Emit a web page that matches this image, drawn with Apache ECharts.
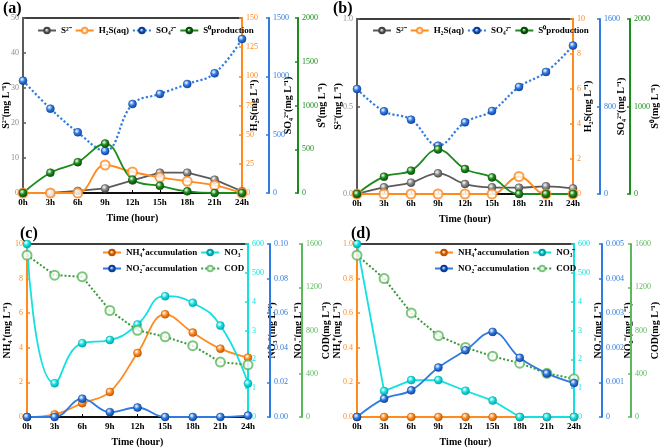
<!DOCTYPE html>
<html><head><meta charset="utf-8">
<script src="https://cdn.jsdelivr.net/npm/echarts@6/dist/echarts.min.js"></script>
<style>html,body{margin:0;padding:0;background:#fff}#c{width:661px;height:448px}</style>
</head><body><div id="c"></div>
<script>
const categories = ['0h','3h','6h','9h','12h','15h','18h','21h','24h'];
// panel (a)
const aS2 = [0,0,0.6,1.3,3.6,5.8,5.8,3.8,0.5];
const aH2S = [0,0,0,24,18,13.4,10,6.6,0];
const aSO4 = [963,723,520,360,763,849,934,1026,1320];
const aS0 = [0,232,352,565,152,82,19,0,0];
// panel (b)
const bS2 = [0,0.038,0.065,0.118,0.057,0.038,0.036,0.044,0.032];
const bH2S = [0,0,0,0,0,0,1.0,0,0];
const bSO4 = [960,756,680,442,655,759,979,1116,1357];
const bS0 = [0,198,267,510,286,190,0,0,0];
// panel (c)
const cNH4 = [0,0.15,0.8,1.45,3.7,5.94,4.88,3.95,3.43];
const cNO3 = [600,117,256,267,321,419,396,317,116];
const cNO2 = [0,0,0.0106,0.0028,0.0055,0,0,0,0.0008];
const cCOD = [1497,1312,1297,985,802,742,660,508,483];
// panel (d)
const dNH4 = [0,0,0,0,0,0,0,0,0];
const dNO3 = [600,90,128,128,91,57,0,0,0];
const dNO2 = [0,0.00053,0.00077,0.00143,0.00193,0.00246,0.00171,0.00126,0.00098];
const dCOD = [1497,1281,962,752,643,562,498,404,353];
// tick label text of NO3- axis
const no3Labels = {0:'0',100:'1',200:'2',300:'3',400:'4',500:'500',600:'600'};

const FONT = 'Liberation Serif';
const GRAY='#5a5a5a', GRAYL='#8c8c8c', ORANGE='#ff8a1e', BLUE='#2f7be0', GREEN='#1a8c1a', CYAN='#14e0e0', LGREEN='#5cb85c';

function sphere(base, dark){
  return {type:'radial',x:0.38,y:0.35,r:0.7,colorStops:[{offset:0,color:'#ffffff'},{offset:0.45,color:base},{offset:1,color:dark}]};
}
function yAx(grid, pos, offset, min, max, interval, color, name, nameGap, fmt, labelColor){
  return {
    type:'value', gridIndex:grid, position:pos, offset:offset, min:min, max:max, interval:interval,
    name:name, nameLocation:'middle', nameGap:nameGap, nameRotate:90, nameMoveOverlap:false,
    nameTextStyle:{fontFamily:FONT,fontWeight:'bold',fontSize:10,color:'#000'},
    axisLine:{show:true,onZero:false,lineStyle:{color:color,width:2}},
    axisTick:{show:true,inside:true,length:3,lineStyle:{color:color,width:1.5}},
    axisLabel:{fontFamily:FONT,fontSize:8,color:labelColor||color,margin:4,formatter:fmt},
    splitLine:{show:false}
  };
}
function xAx(grid){
  return {type:'category',gridIndex:grid,data:categories,boundaryGap:false,
    name:'Time (hour)',nameLocation:'middle',nameGap:20,nameMoveOverlap:false,
    nameTextStyle:{fontFamily:FONT,fontWeight:'bold',fontSize:10,color:'#000'},
    axisLine:{onZero:false,lineStyle:{color:'#000',width:1.5}},
    axisTick:{inside:true,length:3,alignWithLabel:true,lineStyle:{color:'#000'}},
    axisLabel:{fontFamily:FONT,fontWeight:'bold',fontSize:9,color:'#000',margin:5,interval:0}};
}
const grids = [
  {left:22,top:18,width:220,height:175},
  {left:357,top:19,width:220,height:175},
  {left:27,top:244,width:221,height:176},
  {left:357,top:244,width:221,height:176}
].map(g=>Object.assign(g,{show:true,borderColor:'#000',borderWidth:1.5,backgroundColor:'transparent'}));

const f1 = v=>v.toFixed(1), f2=v=>v.toFixed(2), f3=v=>v===0?'0':v.toFixed(3), f0=v=>String(Math.round(v));
const yAxes = [
  // a: 0..3
  yAx(0,'left',0,0,50,10,GRAY,'S²⁻(mg L⁻¹)',12,f0,GRAYL),
  yAx(0,'right',0,0,150,25,ORANGE,'H₂S(mg L⁻¹)',7,f0),
  yAx(0,'right',27,0,1500,500,BLUE,'SO₄²⁻(mg L⁻¹)',14,f0),
  yAx(0,'right',56,0,2000,500,GREEN,'S⁰(mg L⁻¹)',19,f0),
  // b: 4..7
  yAx(1,'left',0,0,1,0.5,GRAY,'S²⁻(mg L⁻¹)',14,f1,GRAYL),
  yAx(1,'right',0,0,10,2,ORANGE,'H₂S(mg L⁻¹)',10,f0),
  yAx(1,'right',27,0,1600,800,BLUE,'SO₄²⁻(mg L⁻¹)',16,f0),
  yAx(1,'right',57,0,2000,1000,GREEN,'S⁰(mg L⁻¹)',20,f0),
  // c: 8..11
  yAx(2,'left',0,0,10,2,ORANGE,'NH₄⁺(mg L⁻¹)',15,f0),
  yAx(2,'right',0,0,600,100,CYAN,'NO₃⁻(mg L⁻¹)',19,v=>no3Labels[Math.round(v)]),
  yAx(2,'right',22,0,0.1,0.02,BLUE,'NO₂⁻(mg L⁻¹)',23,f2),
  yAx(2,'right',54,0,1600,400,LGREEN,'COD(mg L⁻¹)',19,f0),
  // d: 12..15
  yAx(3,'left',0,0,1,0.2,ORANGE,'NH₄⁺(mg L⁻¹)',15,f1),
  yAx(3,'right',0,0,600,100,CYAN,'NO₃⁻(mg L⁻¹)',19,v=>no3Labels[Math.round(v)]),
  yAx(3,'right',28,0,0.005,0.001,BLUE,'NO₂⁻(mg L⁻¹)',21,f3),
  yAx(3,'right',57,0,1600,400,LGREEN,'COD(mg L⁻¹)',19,f0)
];
function ser(name, data, xi, yi, color, opts){
  opts=opts||{};
  const s = {name:name,type:'line',xAxisIndex:xi,yAxisIndex:yi,data:data,
    smooth:opts.smooth===undefined?0.4:opts.smooth,
    symbol:opts.hollow?'emptyCircle':'circle',symbolSize:opts.hollow?9:8,showSymbol:true,
    lineStyle:{color:opts.lineColor||color,width:opts.width||1.8,type:opts.dotted?'dotted':'solid'},
    itemStyle:opts.hollow?{color:color,borderColor:color,borderWidth:1,opacity:0.8}:{color:sphere(color,opts.dark||color),borderColor:opts.dark||color,borderWidth:0.5},
    color:color,z:opts.z||2};
  return s;
}
const series = [
  ser('S²⁻',aS2,0,0,'#8a8a8a',{smooth:false,lineColor:GRAY,dark:'#444'}),
  ser('H₂S(aq)',aH2S,0,1,ORANGE,{hollow:true}),
  ser('SO₄²⁻',aSO4,0,2,BLUE,{dotted:true,width:2.2,dark:'#0b3d99'}),
  ser('S⁰production',aS0,0,3,GREEN,{dark:'#0a4a0a'}),
  ser('S²⁻',bS2,1,4,'#8a8a8a',{lineColor:GRAY,dark:'#444'}),
  ser('H₂S(aq)',bH2S,1,5,ORANGE,{hollow:true}),
  ser('SO₄²⁻',bSO4,1,6,BLUE,{dotted:true,width:2.2,dark:'#0b3d99'}),
  ser('S⁰production',bS0,1,7,GREEN,{dark:'#0a4a0a'}),
  ser('NH₄⁺accumulation',cNH4,2,8,ORANGE,{dark:'#b85500'}),
  ser('NO₃⁻',cNO3,2,9,CYAN,{smooth:0.5,dark:'#00a0a8'}),
  ser('NO₂⁻accumulation',cNO2,2,10,BLUE,{dark:'#0b3d99',z:3}),
  ser('COD',cCOD,2,11,LGREEN,{hollow:true,dotted:true,smooth:false,lineColor:'#3a9a3a',width:2}),
  ser('NH₄⁺accumulation',dNH4,3,12,ORANGE,{dark:'#b85500'}),
  ser('NO₃⁻',dNO3,3,13,CYAN,{smooth:false,dark:'#00a0a8'}),
  ser('NO₂⁻accumulation',dNO2,3,14,BLUE,{dark:'#0b3d99',z:3}),
  ser('COD',dCOD,3,15,LGREEN,{hollow:true,dotted:true,smooth:false,lineColor:'#3a9a3a',width:2})
];
const legTS = {fontFamily:FONT,fontWeight:'bold',fontSize:9,color:'#000'};
function leg(left, top, data){
  return {left:left,top:top,data:data,itemWidth:18,itemHeight:7,itemGap:3,textStyle:legTS,padding:0,selectedMode:false};
}
const option = {
  animation:false,
  backgroundColor:'#fff',
  title:[
    {text:'(a)',left:3,top:1,textStyle:{fontFamily:FONT,fontWeight:'bold',fontSize:16,color:'#000'},padding:0},
    {text:'(b)',left:333,top:1,textStyle:{fontFamily:FONT,fontWeight:'bold',fontSize:16,color:'#000'},padding:0},
    {text:'(c)',left:20,top:226,textStyle:{fontFamily:FONT,fontWeight:'bold',fontSize:16,color:'#000'},padding:0},
    {text:'(d)',left:351,top:226,textStyle:{fontFamily:FONT,fontWeight:'bold',fontSize:16,color:'#000'},padding:0}
  ],
  grid:grids,
  xAxis:[xAx(0),xAx(1),xAx(2),xAx(3)],
  yAxis:yAxes,
  legend:[
    leg(37,26,['S²⁻','H₂S(aq)','SO₄²⁻','S⁰production']),
    leg(372,26,['S²⁻','H₂S(aq)','SO₄²⁻','S⁰production']),
    leg(102,248,['NH₄⁺accumulation','NO₃⁻']),
    leg(102,264,['NO₂⁻accumulation','COD']),
    leg(434,248,['NH₄⁺accumulation','NO₃⁻']),
    leg(434,264,['NO₂⁻accumulation','COD'])
  ],
  series:series
};
const chart = echarts.init(document.getElementById('c'),null,{renderer:'canvas'});
chart.setOption(option);
</script></body></html>
